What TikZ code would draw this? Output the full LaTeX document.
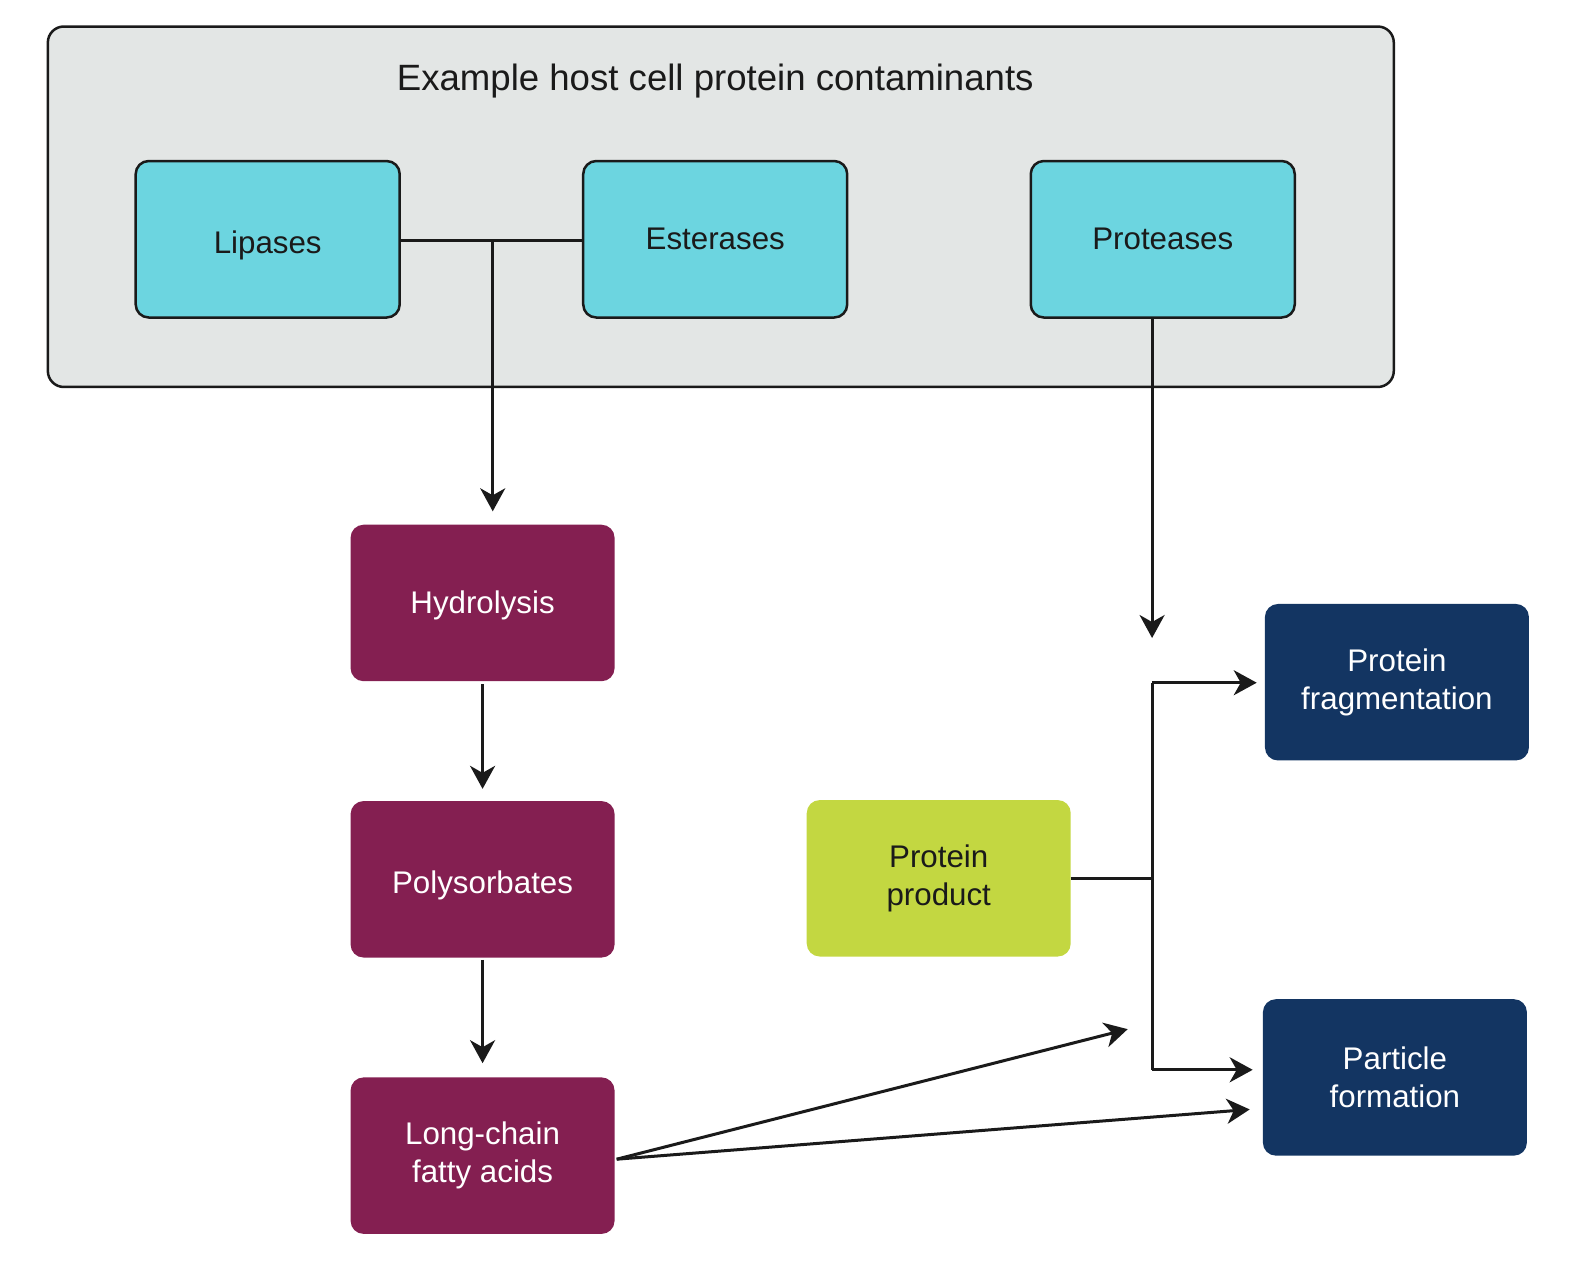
\documentclass[tikz,border=0pt]{standalone}
\usepackage{fontspec}
\setmainfont{Liberation Sans}
\usetikzlibrary{arrows.meta,calc}
\definecolor{hcpgray}{HTML}{E3E6E5}
\definecolor{hcpcyan}{HTML}{6CD5E0}
\definecolor{hcpmag}{HTML}{841F51}
\definecolor{hcpnavy}{HTML}{133562}
\definecolor{hcplime}{HTML}{C3D741}
\definecolor{txt}{HTML}{1A1A1A}
\newcommand{\lowertxt}[2]{\raisebox{-#1}[\height][\depth]{#2}}
\tikzset{
  basebox/.style={minimum width=264pt, minimum height=156.5pt, inner sep=0pt, align=center,
    font=\fontsize{31.3}{38}\selectfont, rounded corners=13pt},
  enzbox/.style={basebox, fill=hcpcyan, draw=txt, line width=2.5pt, text=txt},
  magbox/.style={basebox, fill=hcpmag, text=white},
  navybox/.style={basebox, fill=hcpnavy, text=white},
  limebox/.style={basebox, fill=hcplime, text=txt},
  conn/.style={draw=txt, line width=3pt},
  arr/.style={conn, -{Stealth[length=23pt, width=25pt, inset=7pt]}},
}
\begin{document}
\begin{tikzpicture}[x=1.016pt,y=-1.016pt]
\useasboundingbox (0,0) rectangle (1568,1242);
\node[draw=txt, fill=hcpgray, line width=2.5pt, rounded corners=16pt, minimum width=1346pt, minimum height=360.5pt, inner sep=0pt] (hcp) at (709.5,203.5) {};
\node[font=\fontsize{36.6}{44}\selectfont, text=txt] (title) at (704,80) {Example host cell protein contaminants};
\node[enzbox] (lip) at (263.5,235.5) {\lowertxt{6pt}{Lipases}};
\node[enzbox] (est) at (704,235.5) {Esterases};
\node[enzbox] (pro) at (1144.5,235.5) {Proteases};
\node[magbox] (hyd) at (475,593.5) {\lowertxt{2pt}{Hydrolysis}};
\node[magbox] (pol) at (475,865.5) {\lowertxt{6pt}{Polysorbates}};
\node[magbox] (lcfa) at (475,1137.5) {Long-chain\\fatty acids};
\node[limebox] (pp) at (924,864.5) {Protein\\product};
\node[navybox] (frag) at (1375,671.5) {Protein\\fragmentation};
\node[navybox] (part) at (1373,1060.5) {Particle\\formation};
% junctions and free ends
\coordinate (j1) at (485,237);
\coordinate (ptop) at (1134,313);
\coordinate (ptip) at (1134,628);
\coordinate (vtop) at (1134,672);
\coordinate (vbot) at (1134,1053);
\coordinate (vmid) at (1134,865);
\coordinate (lstart) at (607,1141);
\coordinate (ltip) at (1110,1013);
% connectors
\draw[conn] (lip.east |- j1) -- (est.west |- j1);
\draw[arr, shorten >=-1pt] (j1) -- ($(j1 |- hyd.north)+(0,-14)$);
\draw[arr, shorten <=3pt, shorten >=12pt] (hyd.south) -- (pol.north);
\draw[arr, shorten <=2pt, shorten >=14pt] (pol.south) -- (lcfa.north);
\draw[arr] (ptop) -- (ptip);
\draw[conn] (pp.east |- vmid) -- (vmid);
\draw[arr, shorten >=8pt] (vtop) -- (frag.west |- vtop);
\draw[arr, shorten >=10pt] (vbot) -- (part.west |- vbot);
\draw[conn] (vtop) -- (vbot);
\draw[arr] (lstart) -- (ltip);
\draw[arr, shorten >=13pt] (lstart) -- (part.west |- 0,1091);
\end{tikzpicture}
\end{document}
